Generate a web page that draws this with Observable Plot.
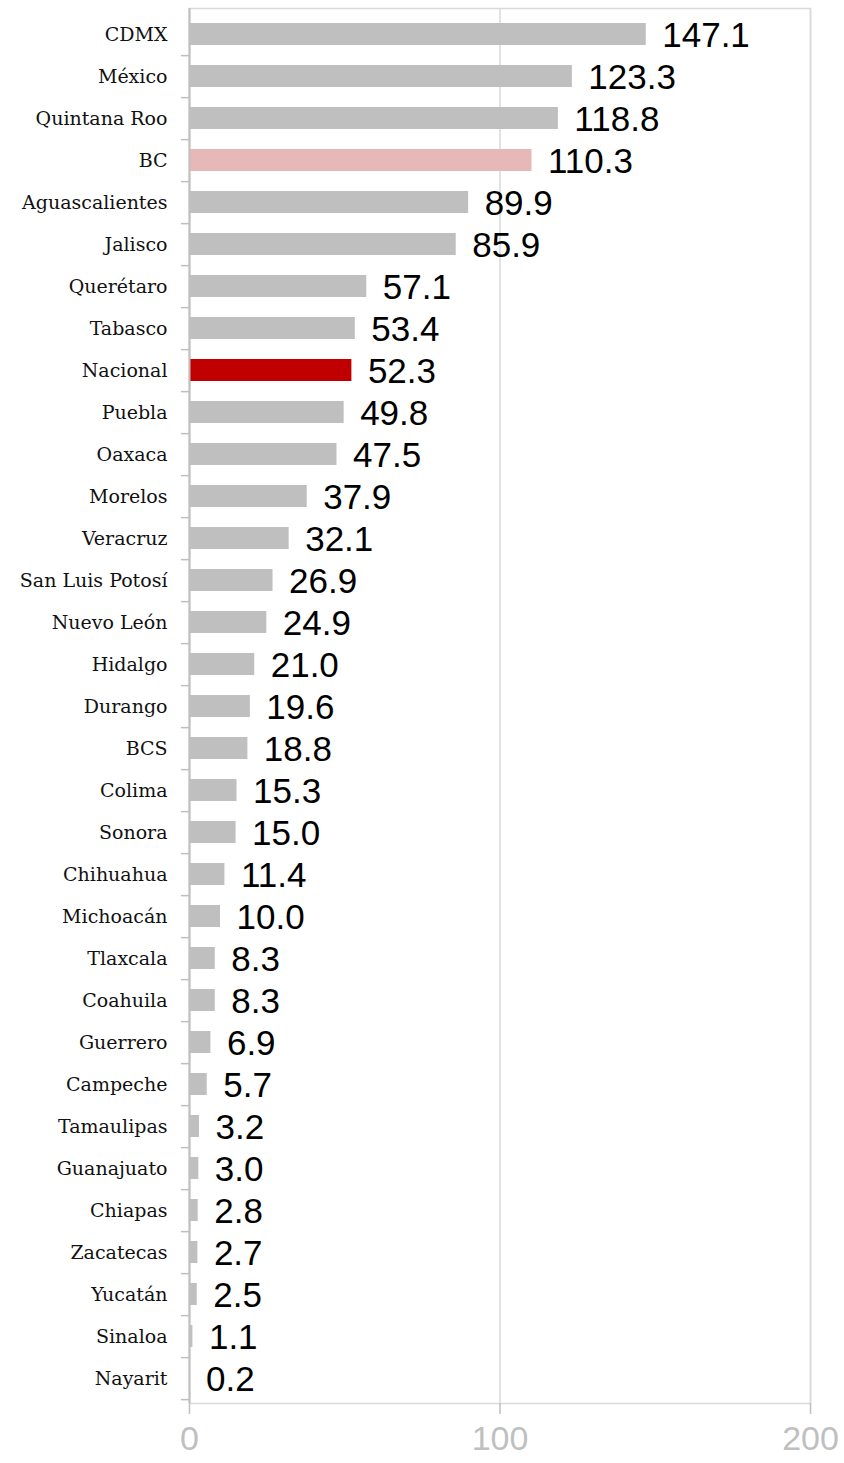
<!DOCTYPE html>
<html>
<head>
<meta charset="utf-8">
<script src="https://cdn.jsdelivr.net/npm/d3@7"></script>
<script src="https://cdn.jsdelivr.net/npm/@observablehq/plot@0.6"></script>
<style>
  html, body { margin: 0; padding: 0; background: #fff; }
  #chart svg { display: block; }
</style>
</head>
<body>
<div id="chart"></div>
<script>
const states = ["CDMX","México","Quintana Roo","BC","Aguascalientes","Jalisco","Querétaro","Tabasco","Nacional","Puebla","Oaxaca","Morelos","Veracruz","San Luis Potosí","Nuevo León","Hidalgo","Durango","BCS","Colima","Sonora","Chihuahua","Michoacán","Tlaxcala","Coahuila","Guerrero","Campeche","Tamaulipas","Guanajuato","Chiapas","Zacatecas","Yucatán","Sinaloa","Nayarit"];
const values = [147.1,123.3,118.8,110.3,89.9,85.9,57.1,53.4,52.3,49.8,47.5,37.9,32.1,26.9,24.9,21.0,19.6,18.8,15.3,15.0,11.4,10.0,8.3,8.3,6.9,5.7,3.2,3.0,2.8,2.7,2.5,1.1,0.2];
const xTicks = [0, 100, 200];
const highlight = {"BC": "#e6b8b7", "Nacional": "#c00000"};

const data = states.map((s, i) => ({state: s, value: values[i]}));

const W = 844, H = 1463;
const mTop = 8, mBottom = 60, mLeft = 189, mRight = 34;
const step = (H - mTop - mBottom) / states.length;
const grid = "#d9d9d9";
const axisGray = "#bfbfbf";

const chart = Plot.plot({
  width: W,
  height: H,
  marginTop: mTop,
  marginBottom: mBottom,
  marginLeft: mLeft,
  marginRight: mRight,
  x: {domain: [0, 200], ticks: xTicks},
  y: {domain: states, paddingInner: 0.48, paddingOuter: 0.24, label: null},
  marks: [
    Plot.frame({stroke: grid, strokeWidth: 1.5}),
    Plot.gridX(xTicks, {stroke: grid, strokeOpacity: 1, strokeWidth: 1.5}),
    Plot.barX(data, {x: "value", y: "state", fill: d => highlight[d.state] || "#bfbfbf"}),
    Plot.ruleX([0], {stroke: axisGray, strokeWidth: 2}),
    Plot.axisY({tickSize: 8, dy: step / 2, text: null, stroke: axisGray, strokeWidth: 1.5}),
    Plot.axisY({tickSize: 0, tickPadding: 22, fontSize: 19, fontFamily: "DejaVu Serif", fill: "#111", label: null}),
    Plot.axisX(xTicks, {tickSize: 11, tickPadding: 11, fontSize: 34, fontFamily: "Liberation Sans", stroke: axisGray, fill: "#bfbfbf", strokeWidth: 1.5, label: null}),
    Plot.text(data, {x: "value", y: "state", text: d => d3.format(".1f")(d.value), textAnchor: "start", dx: 16, dy: 1, fontSize: 35, fontFamily: "Liberation Sans", fill: "#000"})
  ]
});
document.getElementById("chart").appendChild(chart);
</script>
</body>
</html>
